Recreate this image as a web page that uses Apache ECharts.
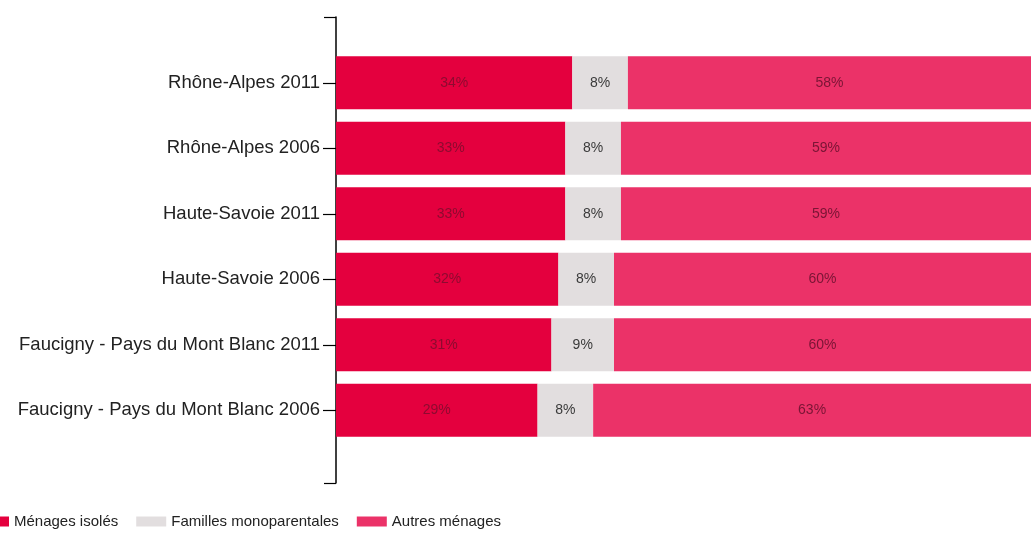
<!DOCTYPE html>
<html><head><meta charset="utf-8">
<script src="https://cdn.jsdelivr.net/npm/echarts@6/dist/echarts.min.js"></script>
<style>html,body{margin:0;padding:0;background:#fff}#c{width:1031px;height:537px}</style>
</head><body><div id="c"></div>
<script>
const categories = ['Rhône-Alpes 2011', 'Rhône-Alpes 2006', 'Haute-Savoie 2011', 'Haute-Savoie 2006', 'Faucigny - Pays du Mont Blanc 2011', 'Faucigny - Pays du Mont Blanc 2006'];
const seriesNames = ['Ménages isolés', 'Familles monoparentales', 'Autres ménages'];
const menagesIsoles = [34, 33, 33, 32, 31, 29];
const famillesMono = [8, 8, 8, 8, 9, 8];
const autresMenages = [58, 59, 59, 60, 60, 63];
const colors = ['#E4003E', '#E2DEDF', '#EB3268'];
const labelColors = ['#8E0A30', '#3a3a3a', '#7A1535'];

const chart = echarts.init(document.getElementById('c'));
const vals = [menagesIsoles, famillesMono, autresMenages];
chart.setOption({
  animation: false,
  textStyle: { fontFamily: 'Liberation Sans, Arial, sans-serif' },
  grid: [
    { left: 336, right: 0, top: 50, bottom: 94 },
    { left: 336, right: 0, top: 17, bottom: 54 }
  ],
  xAxis: [
    { gridIndex: 0, type: 'value', min: 0, max: 100, show: false },
    { gridIndex: 1, type: 'value', min: 0, max: 1, show: false }
  ],
  yAxis: [
    {
      gridIndex: 0, type: 'category', data: categories, inverse: true,
      axisLine: { show: false },
      axisTick: { show: true, alignWithLabel: true, length: 13, lineStyle: { color: '#000', width: 1.2 } },
      axisLabel: { color: '#222', fontSize: 18.5, margin: 16 },
      splitLine: { show: false }
    },
    {
      gridIndex: 1, type: 'value', min: 0, max: 1, interval: 1,
      axisLine: { show: true, lineStyle: { color: '#000', width: 1.5 } },
      axisTick: { show: true, length: 12, lineStyle: { color: '#000', width: 1.2 } },
      axisLabel: { show: false },
      splitLine: { show: false }
    }
  ],
  legend: {
    left: -26, bottom: 3, itemWidth: 30, itemHeight: 10, itemGap: 18,
    textStyle: { fontSize: 15, color: '#222' },
    icon: 'rect',
    data: seriesNames
  },
  series: seriesNames.map((n, i) => ({
    name: n, type: 'bar', stack: 'total', barWidth: 53,
    xAxisIndex: 0, yAxisIndex: 0,
    itemStyle: { color: colors[i] },
    label: { show: true, position: 'inside', formatter: p => p.value + '%', color: labelColors[i], fontSize: 14 },
    data: vals[i]
  }))
});
</script></body></html>
